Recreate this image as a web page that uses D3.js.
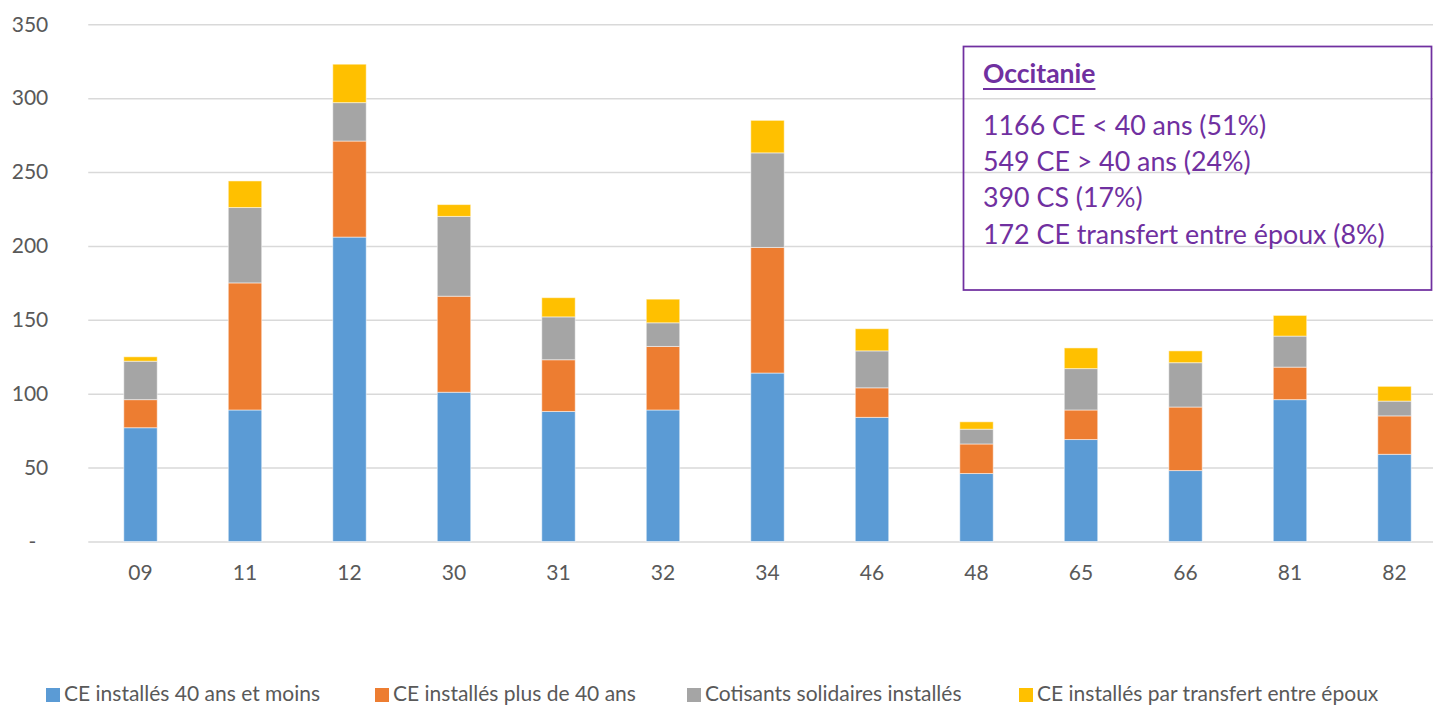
<!DOCTYPE html>
<html>
<head>
<meta charset="utf-8">
<script src="https://cdn.jsdelivr.net/npm/d3@7"></script>
<style>
  body { margin: 0; background: #fff; }
  svg { display: block; font-family: Lato, "Open Sans", sans-serif; }
</style>
</head>
<body>
<div id="chart"></div>
<script>
// departements
var categories = ["09", "11", "12", "30", "31", "32", "34", "46", "48", "65", "66", "81", "82"];

// series values
var ceMoins40  = [77, 89, 206, 101, 88, 89, 114, 84, 46, 69, 48, 96, 59];
var cePlus40   = [19, 86, 65, 65, 35, 43, 85, 20, 20, 20, 43, 22, 26];
var cotisants  = [26, 51, 26, 54, 29, 16, 64, 25, 10, 28, 30, 21, 10];
var transfert  = [3, 18, 26, 8, 13, 16, 22, 15, 5, 14, 8, 14, 10];

var seriesNames = ["CE installés 40 ans et moins", "CE installés plus de 40 ans",
                   "Cotisants solidaires installés", "CE installés par transfert entre époux"];
var seriesColors = ["#5B9BD5", "#ED7D31", "#A5A5A5", "#FFC000"];

var yTicks = [0, 50, 100, 150, 200, 250, 300, 350];

var boxTitle = "Occitanie";
var boxLines = ["1166 CE < 40 ans (51%)", "549 CE > 40 ans (24%)", "390 CS (17%)",
                "172 CE transfert entre époux (8%)"];

var w = 1433, h = 707;
var plot_left = 88.25, plot_right = 1446.75;
var y_top = 24.3, y_bottom = 541.5;

var svg = d3.select("#chart").append("svg")
  .attr("width", w)
  .attr("height", h);

var x = d3.scaleBand()
  .domain(categories)
  .range([plot_left, plot_right])
  .paddingInner(0.68)
  .paddingOuter(0.34);

var y = d3.scaleLinear()
  .domain([0, 350])
  .range([y_bottom, y_top]);

// gridlines + y labels
var yAxis = svg.append("g")
  .attr("transform", "translate(" + plot_left + ",0)")
  .call(d3.axisLeft(y)
    .tickValues(yTicks)
    .tickSize(-(plot_right - plot_left))
    .tickPadding(40)
    .tickFormat(function(d){ return d === 0 ? "-" : d; }));
yAxis.select(".domain").remove();
yAxis.selectAll(".tick line")
  .attr("stroke", "#D9D9D9")
  .attr("stroke-width", 1.5);
yAxis.selectAll(".tick text")
  .attr("fill", "#595959")
  .attr("font-size", 21)
  .attr("font-family", "Lato, sans-serif")
  .attr("dx", function(d){ return d === 0 ? -12 : 0; });

// stacked bars
var rows = categories.map(function(c, i){
  return {cat: c, s0: ceMoins40[i], s1: cePlus40[i], s2: cotisants[i], s3: transfert[i]};
});
var stack = d3.stack().keys(["s0", "s1", "s2", "s3"]);
var layers = stack(rows);

svg.selectAll(".layer")
  .data(layers)
  .enter()
  .append("g")
  .attr("class", "layer")
  .attr("fill", function(d, i){ return seriesColors[i]; })
  .selectAll("rect")
  .data(function(d){ return d; })
  .enter()
  .append("rect")
  .attr("x", function(d){ return x(d.data.cat); })
  .attr("width", x.bandwidth())
  .attr("y", function(d){ return y(d[1]); })
  .attr("height", function(d){ return y(d[0]) - y(d[1]); })
  .attr("stroke", "#ffffff")
  .attr("stroke-opacity", 0.5)
  .attr("stroke-width", 1);

// x labels
var xAxis = svg.append("g")
  .attr("transform", "translate(0," + y_bottom + ")")
  .call(d3.axisBottom(x).tickSize(0).tickPadding(24));
xAxis.select(".domain").remove();
xAxis.selectAll(".tick text")
  .attr("fill", "#595959")
  .attr("font-size", 21)
  .attr("font-family", "Lato, sans-serif");

// annotation box
var box = svg.append("g");
box.append("rect")
  .attr("x", 963.5)
  .attr("y", 46.5)
  .attr("width", 468)
  .attr("height", 243.5)
  .attr("fill", "none")
  .attr("stroke", "#7030A0")
  .attr("stroke-width", 1.75);
var title = box.append("text")
  .attr("x", 983)
  .attr("y", 83)
  .attr("fill", "#7030A0")
  .attr("font-size", 26.5)
  .attr("font-weight", "bold")
  .text(boxTitle);
var tw = title.node().getComputedTextLength();
box.append("line")
  .attr("x1", 983).attr("x2", 983 + tw)
  .attr("y1", 89).attr("y2", 89)
  .attr("stroke", "#7030A0")
  .attr("stroke-width", 1.8);
box.selectAll(".box_line")
  .data(boxLines)
  .enter()
  .append("text")
  .attr("class", "box_line")
  .attr("x", 983)
  .attr("y", function(d, i){ return 135 + i * 36.2; })
  .attr("fill", "#7030A0")
  .attr("font-size", 26.8)
  .text(function(d){ return d; });

// legend
var legend_x = [46, 375, 687, 1019];
var legend = svg.selectAll(".legend")
  .data(seriesNames)
  .enter()
  .append("g")
  .attr("class", "legend")
  .attr("transform", function(d, i){ return "translate(" + legend_x[i] + ",688)"; });
legend.append("rect")
  .attr("width", 14)
  .attr("height", 14)
  .attr("fill", function(d, i){ return seriesColors[i]; });
legend.append("text")
  .attr("x", 18)
  .attr("y", 13)
  .attr("fill", "#595959")
  .attr("font-size", 21)
  .text(function(d){ return d; });
</script>
</body>
</html>
